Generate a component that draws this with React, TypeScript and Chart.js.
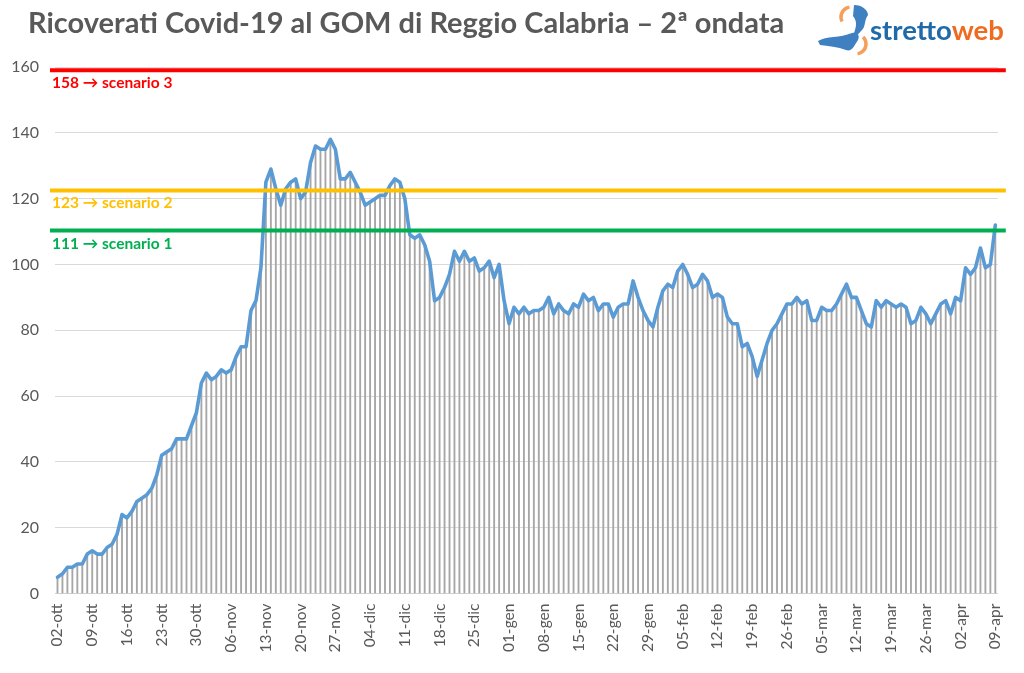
import React, { useEffect, useRef } from "react";
import { Chart, registerables } from "chart.js";

Chart.register(...registerables);

// ---- data ----
const startDate = [2020, 9, 2]; // 02-ott-2020
const monthNames = ["gen", "feb", "mar", "apr", "mag", "giu", "lug", "ago", "set", "ott", "nov", "dic"];

const ricoverati = [
  5, 6, 8, 8, 9, 9, 12, 13, 12, 12, 14, 15, 18, 24, 23, 25, 28, 29, 30, 32,
  36, 42, 43, 44, 47, 47, 47, 51, 55, 64, 67, 65, 66, 68, 67, 68, 72, 75, 75, 86,
  89, 99, 125, 129, 123, 118, 123, 125, 126, 120, 122, 131, 136, 135, 135, 138, 135, 126, 126, 128,
  125, 122, 118, 119, 120, 121, 121, 124, 126, 125, 120, 109, 108, 109, 106, 101, 89, 90, 93, 97,
  104, 101, 104, 101, 102, 98, 99, 101, 96, 100, 89, 82, 87, 85, 87, 85, 86, 86, 87, 90,
  85, 88, 86, 85, 88, 87, 91, 89, 90, 86, 88, 88, 84, 87, 88, 88, 95, 90, 86, 83,
  81, 87, 92, 94, 93, 98, 100, 97, 93, 94, 97, 95, 90, 91, 90, 84, 82, 82, 75, 76,
  72, 66, 71, 76, 80, 82, 85, 88, 88, 90, 88, 89, 83, 83, 87, 86, 86, 88, 91, 94,
  90, 90, 86, 82, 81, 89, 87, 89, 88, 87, 88, 87, 82, 83, 87, 85, 82, 85, 88, 89,
  85, 90, 89, 99, 97, 99, 105, 99, 100, 112,
];

const categories = ricoverati.map((_, i) => {
  const d = new Date(Date.UTC(startDate[0], startDate[1], startDate[2] + i));
  const dd = String(d.getUTCDate()).padStart(2, "0");
  return `${dd}-${monthNames[d.getUTCMonth()]}`;
});

const tickEvery = 7;
const yTicks = [0, 20, 40, 60, 80, 100, 120, 140, 160];

const scenarioValues = [159, 122.5, 110.3];
const scenarioLabels = ["158 → scenario 3", "123 → scenario 2", "111 → scenario 1"];
const scenarioColors = ["#ff0000", "#ffc000", "#00b050"];

const titleText = "Ricoverati Covid-19 al GOM di Reggio Calabria – 2ª ondata";

const FONT = "Lato, 'Open Sans', 'DejaVu Sans', sans-serif";

const overlayPlugin = {
  id: "overlay",
  afterDatasetsDraw(chart: any) {
    const { ctx, chartArea, scales } = chart;
    ctx.save();
    scenarioValues.forEach((v, k) => {
      const y = scales.y.getPixelForValue(v);
      ctx.beginPath();
      ctx.strokeStyle = scenarioColors[k];
      ctx.lineWidth = 4;
      ctx.moveTo(chartArea.left - 5, y);
      ctx.lineTo(chartArea.right + 8, y);
      ctx.stroke();
      ctx.fillStyle = scenarioColors[k];
      ctx.font = `bold 15.5px ${FONT}`;
      ctx.textAlign = "left";
      ctx.textBaseline = "middle";
      ctx.fillText(scenarioLabels[k], chartArea.left - 3, y + 13);
    });
    ctx.restore();
  },
  afterDraw(chart: any) {
    const { ctx } = chart;
    ctx.save();
    // title
    ctx.fillStyle = "#595959";
    ctx.font = `bold 29px ${FONT}`;
    ctx.textAlign = "left";
    ctx.textBaseline = "alphabetic";
    ctx.fillText(titleText, 28, 33);

    // logo mark (Sicily + Calabria silhouette with orange arcs)
    ctx.fillStyle = "#3f80c0";
    ctx.beginPath();
    ctx.moveTo(818, 41);
    ctx.bezierCurveTo(826, 36, 840, 38, 852, 33);
    ctx.bezierCurveTo(858, 32, 860, 36, 858, 40);
    ctx.bezierCurveTo(854, 46, 852, 52, 846, 50);
    ctx.bezierCurveTo(838, 47, 828, 46, 820, 45);
    ctx.closePath();
    ctx.fill();
    ctx.beginPath();
    ctx.moveTo(854, 5);
    ctx.bezierCurveTo(862, 5, 868, 10, 868, 15);
    ctx.bezierCurveTo(864, 20, 866, 26, 862, 30);
    ctx.bezierCurveTo(858, 34, 856, 38, 853, 36);
    ctx.bezierCurveTo(856, 28, 858, 22, 853, 16);
    ctx.closePath();
    ctx.fill();
    ctx.strokeStyle = "#f5a05a";
    ctx.lineWidth = 3.5;
    ctx.beginPath();
    ctx.arc(851, 17, 10, Math.PI * 0.85, Math.PI * 1.45);
    ctx.stroke();
    ctx.beginPath();
    ctx.arc(856, 44, 10, Math.PI * 1.75, Math.PI * 0.45);
    ctx.stroke();

    // logo text
    ctx.font = `bold 27.5px ${FONT}`;
    ctx.fillStyle = "#1f6aa8";
    ctx.fillText("stretto", 870, 40);
    const w = ctx.measureText("stretto").width;
    ctx.fillStyle = "#ef6b1f";
    ctx.fillText("web", 870 + w, 40);
    ctx.restore();
  },
};

export default function App() {
  const ref = useRef<HTMLCanvasElement | null>(null);

  useEffect(() => {
    if (!ref.current) return;
    const chart = new Chart(ref.current, {
      type: "bar",
      data: {
        labels: categories,
        datasets: [
          {
            type: "line",
            data: ricoverati,
            borderColor: "#5b9bd5",
            borderWidth: 3.6,
            pointRadius: 0,
            tension: 0,
            borderJoinStyle: "round",
            borderCapStyle: "round",
            order: 0,
          } as any,
          {
            type: "bar",
            data: ricoverati,
            backgroundColor: "#a6a6a6",
            barThickness: 1.2,
            order: 1,
          },
        ],
      },
      options: {
        animation: false,
        responsive: true,
        maintainAspectRatio: false,
        layout: { padding: { top: 67, right: 26, left: 0, bottom: 0 } },
        plugins: { legend: { display: false }, tooltip: { enabled: false } },
        scales: {
          x: {
            type: "category",
            offset: true,
            grid: { display: false, drawTicks: false },
            border: { display: true, color: "#d0d0d0", width: 1 },
            ticks: {
              autoSkip: false,
              maxRotation: 90,
              minRotation: 90,
              padding: 10,
              color: "#595959",
              font: { family: FONT, size: 15.5 },
              callback: (_v: any, i: number) => (i % tickEvery === 0 ? categories[i] : null),
            },
            afterFit: (s: any) => {
              s.height = 79.4;
            },
          },
          y: {
            min: yTicks[0],
            max: yTicks[yTicks.length - 1],
            afterBuildTicks: (s: any) => {
              s.ticks = yTicks.map((v) => ({ value: v }));
            },
            grid: { color: "#d9d9d9", drawTicks: false, lineWidth: 1 },
            border: { display: false },
            ticks: {
              padding: 16,
              color: "#595959",
              font: { family: FONT, size: 16 },
            },
            afterFit: (s: any) => {
              s.width = 55;
            },
          },
        },
      },
      plugins: [overlayPlugin],
    });
    return () => chart.destroy();
  }, []);

  return (
    <div style={{ position: "absolute", left: 0, top: 0, width: 1024, height: 673, background: "#fff" }}>
      <canvas ref={ref} />
    </div>
  );
}
